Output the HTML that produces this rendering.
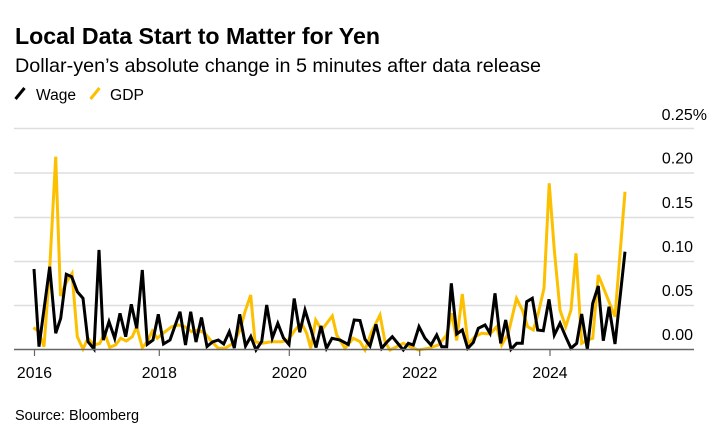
<!DOCTYPE html>
<html>
<head>
<meta charset="utf-8">
<style>
  html,body{margin:0;padding:0;background:#fff;}
  svg{display:block;}
  text{font-family:"Liberation Sans",Arial,sans-serif;fill:#000;}
</style>
</head>
<body>
<svg width="727" height="434" viewBox="0 0 727 434" xmlns="http://www.w3.org/2000/svg">
  <rect width="727" height="434" fill="#fff"/>
  <!-- Title & subtitle -->
  <text x="15" y="44" font-size="23" font-weight="bold" textLength="365" lengthAdjust="spacingAndGlyphs">Local Data Start to Matter for Yen</text>
  <text x="15" y="72" font-size="19.8" textLength="526" lengthAdjust="spacingAndGlyphs">Dollar-yen’s absolute change in 5 minutes after data release</text>
  <!-- Legend -->
  <line x1="15.5" y1="99" x2="24.5" y2="88" stroke="#000" stroke-width="3" stroke-linecap="butt"/>
  <text x="36" y="100" font-size="15.5" textLength="40" lengthAdjust="spacingAndGlyphs">Wage</text>
  <line x1="90.5" y1="99" x2="99.5" y2="88" stroke="#fcc000" stroke-width="3" stroke-linecap="butt"/>
  <text x="110" y="100" font-size="15.5" textLength="34" lengthAdjust="spacingAndGlyphs">GDP</text>

  <!-- Gridlines -->
  <g stroke="#dedede" stroke-width="1.5">
    <line x1="14" y1="128.5" x2="694" y2="128.5"/>
    <line x1="14" y1="173" x2="694" y2="173"/>
    <line x1="14" y1="217.5" x2="694" y2="217.5"/>
    <line x1="14" y1="261.5" x2="694" y2="261.5"/>
    <line x1="14" y1="305.5" x2="694" y2="305.5"/>
  </g>
  <!-- Y labels -->
  <g font-size="16" text-anchor="end">
    <text x="707" y="120">0.25%</text>
    <text x="693" y="163.5">0.20</text>
    <text x="693" y="208">0.15</text>
    <text x="693" y="252">0.10</text>
    <text x="693" y="296">0.05</text>
    <text x="693" y="340">0.00</text>
  </g>

  <!-- GDP series -->
  <polyline fill="none" stroke="#fcc000" stroke-width="3" stroke-linejoin="miter" stroke-miterlimit="4"
    points="33.3,327.7 38.5,331 44,346.7 49.5,272 55.7,156.7 60.5,296 66,283 72,273.5 77.3,336.7 83,349 88,338.3 94,345 99.7,343.5 104.7,333.3 109.7,347.3 115.5,345 120.7,338.3 126.3,341 132.3,336.7 136.7,326.7 142.3,347.7 147.3,341.7 152.3,331 157.3,338.3 163,333.3 171.7,326.7 178.3,325 185,326.7 191.7,331.7 198.3,330 205,333.3 211.7,341.7 218.3,348.3 225,348.3 233.3,343.3 240,330 245,311.7 250.7,295 255,341.7 261.7,343.3 271.7,341.7 281.7,341.7 288.3,340 295,330 301.7,323.3 306.7,333.3 310.7,348.3 315.7,320 321.7,330 332.3,316 336.7,335 345,348.3 353.3,338.3 360,341.7 365,350 371.7,331.7 380,315 385,341.7 390,350 396.7,346.7 403.3,343.3 410,346.7 418.3,350 428.3,348.3 438.3,345 446.7,335 451.7,313.3 456.7,340.5 462.3,294 468,344 475,336.7 481.7,333.3 490,334 496.7,326.7 501.7,345 508.3,333.3 516.5,298.5 522.3,310 527.7,326.7 533.3,330 538.3,313.3 544,288.3 549.2,183.3 554.3,250 560,310 565.7,326.7 571,310 576,253.3 581.7,343.3 587.7,340 592.7,338.3 598.3,275 615,316.7 625,191.7"/>

  <!-- Wage series -->
  <polyline fill="none" stroke="#000" stroke-width="3" stroke-linejoin="miter" stroke-miterlimit="4"
    points="34,269 39,346.7 49.7,266.7 55.7,333.3 60.7,318.3 66.3,274.3 71.7,276.7 77.3,291.7 83,298.3 88,341.7 94,349 99,250 103.3,340 109,321.7 114.7,338.3 120,313.3 125.7,336.7 131.3,304.3 136.7,328.3 142.3,270 147.3,344.3 153,340 158.3,314.3 163.5,344 170,340 180,311.7 185.5,345 190.7,311.7 196,342 201.5,317.5 207,346.5 212.5,342 218.3,340 223.7,344 229.3,331.7 234.3,348 239.7,314.3 245.5,346 250.8,336.5 256,350 261.7,341.5 266.7,305 272.3,338 277.8,323.3 283.5,338 289,344.5 294.2,298.5 299.8,332.3 305,310 311,329.5 316,347.5 321,326 326.5,348.3 332,338.3 340,340 348.3,344.5 354.2,320 360,320.5 365,339.3 370,346 376,324.3 381.7,348.3 387,342 392.3,336.7 398.3,344 403.3,350 408.3,343.3 413.3,345 419,326.7 425,338.3 431,345 436.7,335 441.7,346.7 446.7,346.7 451.3,283.3 456.7,334 462.3,330 467.7,348.3 473.3,342.5 478.3,328.3 485,325 490,333.3 495,293.3 500.7,343.3 505.7,320 511,349.3 516.7,343.3 522.3,343.3 526.7,301.7 532.3,298.3 537.7,330 543.3,330.7 549,299.3 554.3,335 560,323.3 565.7,336.7 571,348.3 576.7,343.3 581.7,314 587.3,349.3 592.7,303.3 598.3,286 603.3,340.7 609,306.7 615,344 625,251.7"/>

  <!-- X axis -->
  <line x1="14" y1="349.5" x2="694" y2="349.5" stroke="#666" stroke-width="1.5"/>
  <g stroke="#666" stroke-width="1.2">
    <line x1="34.5" y1="349.5" x2="34.5" y2="356"/>
    <line x1="159.3" y1="349.5" x2="159.3" y2="356"/>
    <line x1="289.3" y1="349.5" x2="289.3" y2="356"/>
    <line x1="419.7" y1="349.5" x2="419.7" y2="356"/>
    <line x1="550" y1="349.5" x2="550" y2="356"/>
  </g>
  <g font-size="15.8" text-anchor="middle">
    <text x="34.5" y="378">2016</text>
    <text x="159.3" y="378">2018</text>
    <text x="289.3" y="378">2020</text>
    <text x="419.7" y="378">2022</text>
    <text x="550" y="378">2024</text>
  </g>

  <!-- Source -->
  <text x="15" y="420" font-size="14.5" fill="#222" textLength="124" lengthAdjust="spacingAndGlyphs">Source: Bloomberg</text>
</svg>
</body>
</html>
